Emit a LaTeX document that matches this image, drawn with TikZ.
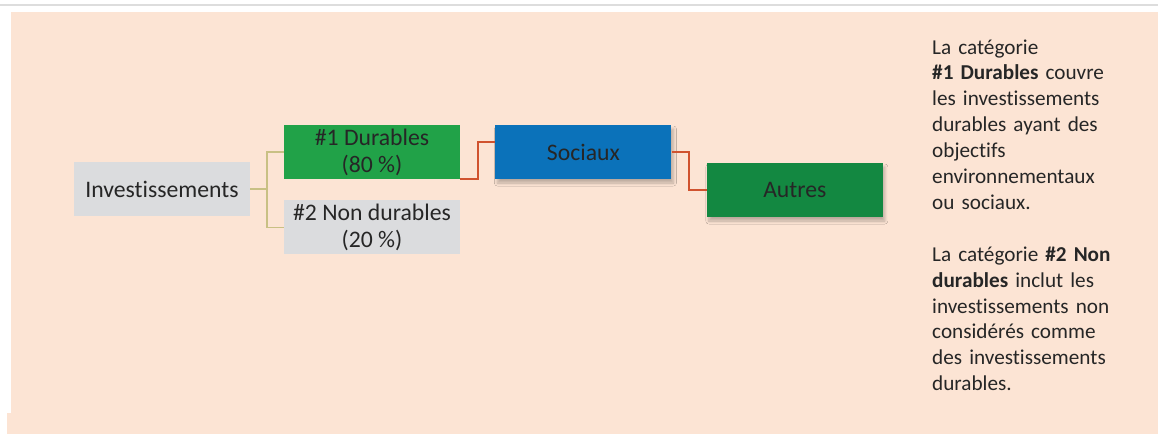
\documentclass[tikz,border=0pt]{standalone}
\usepackage{fontspec}
\setmainfont{Carlito}[Ligatures=NoCommon]
\usepackage{tikz}
\usetikzlibrary{positioning,shadows.blur}
\definecolor{EsgPeach}{HTML}{FCE4D4}
\definecolor{EsgRule}{HTML}{DDDDDD}
\definecolor{EsgGrey}{HTML}{DBDCDE}
\definecolor{EsgGreen}{HTML}{21A248}
\definecolor{EsgBlue}{HTML}{0B72BA}
\definecolor{EsgDark}{HTML}{138841}
\definecolor{EsgTan}{HTML}{C8C084}
\definecolor{EsgRed}{HTML}{D0532F}
\definecolor{EsgInk}{HTML}{262626}
\tikzset{
  branch/.style={line width=1.3pt, draw=EsgTan},
  link/.style={line width=2pt, draw=EsgRed},
  box/.style={minimum width=176pt, minimum height=54pt, inner sep=0pt, align=center,
              text=EsgInk, font=\fontsize{23.7}{27}\selectfont},
  plain/.style={box, fill=EsgGrey},
  keep/.style={box, fill=EsgGreen},
  social/.style={box, fill=EsgBlue, blur shadow={shadow xshift=2pt, shadow yshift=-4pt, shadow opacity=25, shadow blur radius=3pt, shadow blur steps=8}},
  other/.style={box, fill=EsgDark, blur shadow={shadow xshift=2pt, shadow yshift=-4pt, shadow opacity=25, shadow blur radius=3pt, shadow blur steps=8}},
  note/.style={text width=215pt, align=left, inner sep=0pt, text=EsgInk,
               font=\fontsize{21.2}{25.9}\selectfont},
}
\begin{document}
\begin{tikzpicture}[x=1pt,y=-1pt,node distance=35pt]
    \useasboundingbox (0,0) rectangle (1158,434);
    \fill[EsgPeach] (11,12) rectangle (1158,434);
    \fill[EsgPeach] (7,413) rectangle (11,434);
    \draw[EsgRule, line width=2pt] (0,5) -- (1158,5);
    \node[plain] (inv) at (162,189) {Investissements};
    \node[keep] (dur) at (372,152) {\#1 Durables\\(80~\%)};
    \node[plain,below=21pt of dur] (nondur) {\#2 Non durables\\(20~\%)};
    \node[social,right=of dur] (soc) {Sociaux};
    \node[other,right=of soc,yshift=-38pt] (aut) {Autres};
    \node[note,anchor=base west] (expl) at (932,54) {La catégorie\\
      \textbf{\#1 Durables} couvre\\
      les investissements\\
      durables ayant des\\
      objectifs\\
      environnementaux\\
      ou sociaux.\\[25.9pt]
      La catégorie \textbf{\#2 Non}\\
      \textbf{durables} inclut les\\
      investissements non\\
      considérés comme\\
      des investissements\\
      durables.};
    \draw[branch] (inv.east) -- ++(16.7,0) |- (dur.west);
    \draw[branch] (inv.east) -- ++(16.7,0) |- (nondur.west);
    \draw[link] (dur.south east) -- ++(17.5,0) |- ([yshift=10pt]soc.west);
    \draw[link] (soc.east) -- ++(17,0) |- (aut.west);
  \end{tikzpicture}
\end{document}
